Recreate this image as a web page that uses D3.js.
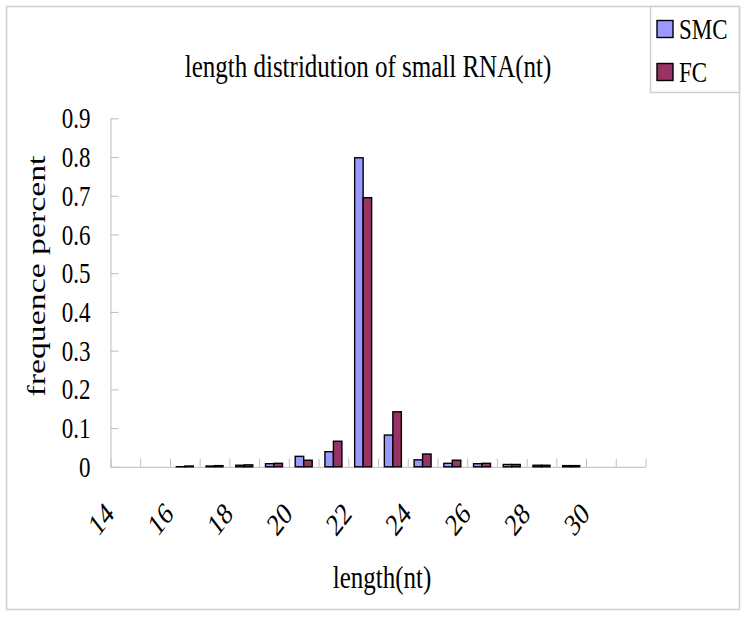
<!DOCTYPE html>
<html>
<head>
<meta charset="utf-8">
<script src="https://cdn.jsdelivr.net/npm/d3@7"></script>
<style>
  html, body { margin: 0; padding: 0; background: #fff; }
  svg { display: block; font-family: "Liberation Serif", "Times New Roman", serif; }
</style>
</head>
<body>
<div id="chart"></div>
<script>
// === length distribution bar chart ===

const categories = ['14', '15', '16', '17', '18', '19', '20', '21', '22', '23', '24', '25', '26', '27', '28', '29', '30', '31'];
const tickLabels = ['14', '16', '18', '20', '22', '24', '26', '28', '30'];
const seriesNames = ['SMC', 'FC'];
const smcValues = [0, 0, 0.0003, 0.002, 0.004, 0.008, 0.027, 0.039, 0.798, 0.082, 0.018, 0.009, 0.008, 0.006, 0.004, 0.003, 0, 0];
const fcValues = [0, 0, 0.002, 0.003, 0.005, 0.009, 0.017, 0.066, 0.695, 0.142, 0.033, 0.017, 0.009, 0.006, 0.004, 0.003, 0, 0];
const yTicks = [0, 0.1, 0.2, 0.3, 0.4, 0.5, 0.6, 0.7, 0.8, 0.9];

const WIDTH = 747;
const HEIGHT = 619;
const PLOT = { left: 110.5, right: 645.5, top: 118.3, bottom: 466.8 };
const STRETCH = 1.3; // the original picture is taller than its text
const COLORS = { SMC: '#9999ff', FC: '#993366' };
const AXIS_GRAY = '#bdbdbd';

const svg = d3.select('#chart')
  .append('svg')
  .attr('width', WIDTH)
  .attr('height', HEIGHT);

// outer frame
svg.append('rect')
  .attr('x', 6.5).attr('y', 6.5)
  .attr('width', 733).attr('height', 603)
  .attr('fill', '#fff')
  .attr('stroke', '#cfcfcf')
  .attr('stroke-width', 1.5);

// Scales
const x = d3.scaleBand().domain(categories).range([PLOT.left, PLOT.right]).paddingInner(0).paddingOuter(0);
const xSeries = d3.scaleBand().domain(seriesNames).range([0, x.bandwidth()]).paddingInner(0).paddingOuter(0.75);
const xEdges = d3.scaleLinear().domain([0, categories.length]).range([PLOT.left, PLOT.right]);
const y = d3.scaleLinear().domain([0, 0.9]).range([PLOT.bottom, PLOT.top]);

// Y axis (ticks pointing into the plot)
const yAxis = svg.append('g')
  .attr('transform', `translate(${PLOT.left},0)`)
  .call(d3.axisLeft(y).tickValues(yTicks).tickSizeInner(-8).tickSizeOuter(0).tickPadding(20)
    .tickFormat(d => d === 0 ? '0' : d3.format('.1f')(d)));
yAxis.selectAll('.domain, .tick line').attr('stroke', AXIS_GRAY);
yAxis.selectAll('text')
  .attr('fill', '#000')
  .attr('font-size', '23px')
  .attr('font-family', '"Liberation Serif", serif')
  .attr('transform', `scale(1,${STRETCH})`);

// X axis: tick marks on category edges
const xAxis = svg.append('g')
  .attr('transform', `translate(0,${PLOT.bottom})`)
  .call(d3.axisBottom(xEdges).ticks(categories.length).tickSizeInner(-8).tickSizeOuter(0).tickFormat(''));
xAxis.selectAll('.domain, .tick line').attr('stroke', AXIS_GRAY);

// X labels, every other category, slanted, text ending near the category centre
const xLabels = svg.append('g')
  .attr('transform', `translate(-16,${PLOT.bottom + 41})`)
  .call(d3.axisBottom(x).tickSize(0).tickFormat(d => tickLabels.includes(d) ? d : ''));
xLabels.select('.domain').remove();
xLabels.selectAll('text')
  .attr('fill', '#000')
  .attr('font-size', '24px')
  .attr('font-family', '"Liberation Serif", serif')
  .attr('y', 0).attr('dy', '0.35em')
  .attr('text-anchor', 'end')
  .attr('transform', `scale(1,${STRETCH}) rotate(-45)`);

// Bars
const rows = categories.map((c, i) => ({ cat: c, SMC: smcValues[i], FC: fcValues[i] }));
const groups = svg.append('g').attr('class', 'bars')
  .selectAll('g')
  .data(rows)
  .join('g')
  .attr('transform', d => `translate(${x(d.cat)},0)`);

groups.selectAll('rect')
  .data(d => seriesNames.filter(s => d[s] > 0).map(s => ({ key: s, value: d[s] })))
  .join('rect')
  .attr('x', d => xSeries(d.key))
  .attr('y', d => y(d.value))
  .attr('width', xSeries.bandwidth())
  .attr('height', d => y(0) - y(d.value))
  .attr('fill', d => COLORS[d.key])
  .attr('stroke', '#000')
  .attr('stroke-width', 1.4);

// Title
svg.append('text')
  .attr('transform', `translate(368,77) scale(1,${STRETCH})`)
  .attr('text-anchor', 'middle')
  .attr('font-size', '25px')
  .text('length distridution of small RNA(nt)');

// Axis titles
svg.append('text')
  .attr('transform', `translate(382,588) scale(1,${STRETCH})`)
  .attr('text-anchor', 'middle')
  .attr('font-size', '25px')
  .text('length(nt)');

svg.append('text')
  .attr('transform', `translate(45,276) scale(1,${STRETCH}) rotate(-90)`)
  .attr('text-anchor', 'middle')
  .attr('font-size', '26px')
  .text('frequence percent');

// Legend
const legend = svg.append('g').attr('class', 'legend');
legend.append('rect')
  .attr('x', 650.5).attr('y', 6.5)
  .attr('width', 89).attr('height', 86)
  .attr('fill', '#fff')
  .attr('stroke', '#cfcfcf')
  .attr('stroke-width', 1.5);

const legendY = d3.scalePoint().domain(seriesNames).range([29, 72]);
const items = legend.selectAll('g.item')
  .data(seriesNames)
  .join('g')
  .attr('class', 'item')
  .attr('transform', d => `translate(657,${legendY(d)})`);
items.append('rect')
  .attr('x', 0).attr('y', -8.5)
  .attr('width', 16).attr('height', 17)
  .attr('fill', d => COLORS[d])
  .attr('stroke', '#000')
  .attr('stroke-width', 1.4);
items.append('text')
  .attr('x', 22).attr('y', 0)
  .attr('dy', '0.35em')
  .attr('transform', `scale(1,${STRETCH})`)
  .attr('font-size', '23px')
  .text(d => d);
</script>
</body>
</html>
